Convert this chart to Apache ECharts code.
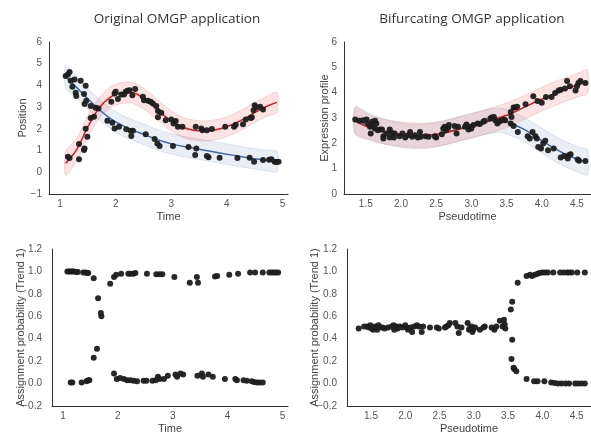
<!DOCTYPE html>
<html><head><meta charset="utf-8">
<script src="https://cdn.jsdelivr.net/npm/echarts@6/dist/echarts.min.js"></script>
<style>html,body{margin:0;padding:0;background:#fff}#c{width:591px;height:439px}</style>
</head><body><div id="c"></div>
<script>
// ---------- Data: top-left (Original OMGP) ----------
const origPoints = [
 [1.10,4.43],[1.14,4.50],[1.17,4.62],[1.19,4.21],[1.22,3.94],[1.26,4.27],[1.28,3.66],[1.29,3.51],[1.37,4.21],[1.43,3.60],
 [1.46,3.98],[1.44,3.14],[1.47,3.29],[1.55,3.05],[1.64,2.97],[1.69,2.94],[1.85,2.37],[1.94,2.28],[1.98,2.02],[2.06,2.10],
 [2.19,1.98],[2.27,1.91],[2.31,1.91],[2.28,1.67],[2.54,1.75],[2.70,1.53],[2.75,1.33],[2.79,1.21],[3.03,1.21],[3.31,1.16],
 [3.45,1.10],[3.43,0.80],[3.64,0.75],[3.67,0.69],[3.87,0.67],[4.19,0.66],[4.41,0.67],[4.49,0.49],[4.65,0.57],[4.76,0.58],
 [4.80,0.60],[4.86,0.49],[4.89,0.47],[4.93,0.49],
 [1.14,0.72],[1.17,0.66],[1.34,0.60],[1.34,1.30],[1.43,1.03],[1.44,1.10],[1.46,2.01],[1.49,1.64],[1.55,2.50],[1.61,2.56],
 [1.92,3.25],[1.98,3.63],[2.00,3.71],[2.04,3.37],[2.10,3.58],[2.15,3.58],[2.18,3.71],[2.21,3.75],[2.25,3.78],[2.30,3.55],
 [2.35,3.84],[2.49,3.48],[2.51,3.32],[2.58,3.29],[2.63,3.25],[2.67,3.17],[2.73,3.05],[2.76,2.82],[2.76,2.53],[2.82,2.74],
 [2.90,2.40],[3.00,2.43],[3.04,2.25],[3.08,2.36],[3.12,2.10],[3.20,2.10],[3.44,2.10],[3.54,2.02],[3.56,1.94],[3.64,1.94],
 [3.73,1.99],[3.97,2.10],[4.13,2.10],[4.16,2.19],[4.29,2.21],[4.34,2.43],[4.43,2.50],[4.45,2.53],[4.48,2.86],[4.50,3.09],
 [4.53,2.99],[4.60,3.02],[4.65,2.89]
];
const origCurveX = [1.1,1.3,1.5,1.7,1.9,2.1,2.3,2.5,2.7,2.9,3.1,3.3,3.5,3.7,3.9,4.1,4.3,4.5,4.7,4.9];
const origRedMean = [0.41,1.05,2.10,2.95,3.45,3.65,3.66,3.40,3.00,2.55,2.20,1.99,1.91,1.92,2.02,2.20,2.45,2.75,3.02,3.22];
const origRedHalf = [0.55,0.52,0.50,0.48,0.48,0.48,0.48,0.48,0.47,0.47,0.46,0.46,0.46,0.46,0.46,0.46,0.46,0.46,0.46,0.46];
const origBlueMean = [4.40,3.90,3.38,2.90,2.48,2.18,1.95,1.75,1.55,1.38,1.25,1.15,1.06,0.97,0.88,0.79,0.70,0.62,0.55,0.49];
const origBlueHalf = [0.53,0.50,0.48,0.48,0.47,0.47,0.47,0.47,0.47,0.47,0.47,0.47,0.47,0.47,0.47,0.47,0.47,0.47,0.47,0.47];
const origXTicks = [1,2,3,4,5];

// ---------- Data: top-right (Bifurcating OMGP) ----------
const bifPoints = [
 [1.35,2.94],[1.41,2.89],[1.46,2.91],[1.51,2.94],[1.53,2.78],[1.56,2.65],[1.57,2.39],[1.59,2.85],[1.60,2.72],[1.63,2.59],
 [1.63,2.89],[1.65,2.78],[1.67,2.52],[1.70,2.55],[1.73,2.55],[1.75,2.28],[1.75,2.19],[1.79,2.39],[1.84,2.55],[1.84,2.23],
 [1.87,2.41],[1.90,2.23],[1.91,2.39],[1.98,2.28],[2.02,2.39],[2.06,2.23],[2.10,2.32],[2.13,2.45],[2.16,2.26],[2.20,2.32],
 [2.24,2.23],[2.27,2.45],[2.28,2.26],[2.35,2.28],[2.39,2.26],[2.48,2.28],[2.50,2.23],[2.58,2.36],[2.60,2.59],[2.62,2.65],
 [2.64,2.52],[2.67,2.62],[2.68,2.72],[2.76,2.68],[2.79,2.39],[2.81,2.65],[2.91,2.65],[2.93,2.74],[2.96,2.55],[2.98,2.65],
 [3.00,2.59],[3.03,2.72],[3.09,2.78],[3.12,2.76],[3.17,2.85],[3.19,2.89],[3.27,2.98],[3.29,3.02],[3.32,3.04],[3.34,2.91],
 [3.37,2.78],[3.39,2.85],[3.42,2.89],[3.46,2.94],[3.48,2.91],
 [3.56,3.24],[3.57,3.04],[3.60,3.41],[3.62,3.41],[3.65,3.44],[3.77,3.54],[3.88,3.86],[3.94,3.67],[4.00,3.60],[4.06,3.83],
 [4.14,3.83],[4.19,3.99],[4.24,4.09],[4.27,4.12],[4.33,4.16],[4.36,4.46],[4.40,4.25],[4.48,4.09],[4.50,4.25],[4.52,4.38],
 [4.55,4.46],[4.62,4.38],
 [3.56,2.78],[3.60,2.68],[3.66,2.45],[3.80,2.28],[3.83,2.19],[3.87,2.45],[3.91,2.28],[3.93,2.19],[3.95,1.86],[3.99,1.80],
 [4.02,1.99],[4.05,2.10],[4.09,1.73],[4.17,1.80],[4.27,1.44],[4.32,1.50],[4.37,1.40],[4.39,1.54],[4.41,1.57],[4.51,1.36],
 [4.53,1.31],[4.62,1.30]
];
const bifCurveX = [1.35,1.55,1.75,1.95,2.15,2.35,2.55,2.75,2.95,3.15,3.35,3.45,3.55,3.75,3.95,4.15,4.35,4.55,4.65];
const bifRedMean = [2.88,2.62,2.47,2.38,2.33,2.32,2.38,2.50,2.64,2.80,2.97,3.06,3.16,3.42,3.68,3.92,4.14,4.34,4.43];
const bifRedHalf = [0.52,0.50,0.49,0.48,0.48,0.48,0.48,0.48,0.48,0.48,0.48,0.48,0.48,0.47,0.47,0.47,0.47,0.47,0.47];
const bifBlueMean = [2.93,2.68,2.47,2.34,2.27,2.27,2.36,2.52,2.68,2.81,2.91,2.90,2.80,2.55,2.20,1.85,1.55,1.33,1.25];
const bifBlueHalf = [0.52,0.50,0.49,0.48,0.48,0.48,0.48,0.48,0.48,0.48,0.48,0.48,0.48,0.48,0.49,0.50,0.50,0.50,0.50];
const bifXTicks = [1.5,2.0,2.5,3.0,3.5,4.0,4.5];

// ---------- Data: bottom-left (assignment, Original) ----------
const origAssign = [
 [1.08,1.00],[1.11,1.00],[1.14,1.00],[1.17,1.00],[1.20,1.00],[1.24,0.995],[1.27,0.995],[1.37,0.99],[1.41,0.99],[1.44,0.985],
 [1.46,0.985],[1.56,0.94],[1.64,0.76],[1.69,0.63],[1.70,0.60],[1.86,0.89],[1.93,0.95],[1.97,0.97],[2.06,0.98],[2.19,0.98],
 [2.23,0.98],[2.28,0.98],[2.32,0.985],[2.53,0.98],[2.70,0.975],[2.76,0.975],[2.81,0.975],[3.03,0.95],[3.31,0.90],[3.44,0.95],
 [3.46,0.90],[3.77,0.955],[3.81,0.96],[4.03,0.97],[4.19,0.98],[4.41,0.99],[4.50,0.99],[4.64,0.99],[4.76,0.99],[4.80,0.99],
 [4.84,0.99],[4.88,0.99],[4.92,0.99],
 [1.14,0.01],[1.17,0.01],[1.34,0.01],[1.43,0.02],[1.46,0.03],[1.48,0.03],[1.56,0.23],[1.62,0.31],[1.93,0.09],[1.98,0.04],
 [2.04,0.05],[2.11,0.04],[2.17,0.03],[2.23,0.03],[2.29,0.025],[2.35,0.02],[2.47,0.025],[2.52,0.025],[2.63,0.025],[2.69,0.03],
 [2.73,0.06],[2.76,0.04],[2.84,0.04],[2.91,0.07],[3.05,0.08],[3.08,0.06],[3.14,0.09],[3.19,0.08],[3.45,0.07],[3.53,0.09],
 [3.55,0.06],[3.65,0.08],[3.73,0.06],[3.95,0.04],[4.14,0.04],[4.17,0.03],[4.29,0.03],[4.35,0.025],[4.44,0.02],[4.48,0.015],
 [4.53,0.01],[4.58,0.01],[4.64,0.01]
];

// ---------- Data: bottom-right (assignment, Bifurcating) ----------
const bifAssign = [
 [1.32,0.49],[1.40,0.51],[1.44,0.51],[1.47,0.50],[1.49,0.52],[1.51,0.49],[1.53,0.48],[1.56,0.51],[1.57,0.50],[1.59,0.48],
 [1.61,0.52],[1.63,0.50],[1.67,0.50],[1.70,0.49],[1.75,0.50],[1.80,0.51],[1.83,0.52],[1.84,0.48],[1.87,0.51],[1.89,0.49],
 [1.92,0.51],[1.96,0.50],[2.00,0.52],[2.02,0.50],[2.04,0.48],[2.08,0.50],[2.10,0.46],[2.13,0.51],[2.17,0.52],[2.20,0.51],
 [2.24,0.46],[2.26,0.51],[2.36,0.50],[2.46,0.50],[2.49,0.49],[2.58,0.50],[2.60,0.51],[2.63,0.52],[2.65,0.54],[2.73,0.54],
 [2.76,0.51],[2.78,0.45],[2.82,0.50],[2.91,0.54],[2.93,0.48],[2.94,0.49],[2.97,0.51],[2.98,0.46],[2.99,0.48],[3.02,0.50],
 [3.09,0.48],[3.14,0.50],[3.16,0.51],[3.26,0.50],[3.30,0.48],[3.33,0.51],[3.38,0.56],[3.42,0.51],[3.44,0.57],[3.45,0.53],
 [3.46,0.49],
 [3.54,0.66],[3.56,0.73],[3.64,0.90],[3.77,0.96],[3.82,0.97],[3.85,0.96],[3.89,0.97],[3.93,0.98],[3.96,0.985],[4.00,0.99],
 [4.04,0.99],[4.08,0.99],[4.16,0.99],[4.26,0.99],[4.31,0.99],[4.36,0.99],[4.39,0.99],[4.43,0.99],[4.51,0.99],[4.62,0.99],
 [3.56,0.39],[3.55,0.22],[3.58,0.14],[3.59,0.13],[3.62,0.11],[3.77,0.04],[3.88,0.02],[3.93,0.02],[4.03,0.02],[4.13,0.01],
 [4.18,0.005],[4.23,0.0],[4.28,0.0],[4.34,0.0],[4.39,0.0],[4.48,0.0],[4.52,0.0],[4.57,0.0],[4.62,0.0]
];

// ---------- Styling ----------
const RED = '#e0161c', BLUE = '#3a6cb0', DOT = '#1e1e1e';
const RED_BAND = 'rgba(225,70,70,0.15)', RED_EDGE = 'rgba(215,90,90,0.25)';
const BLUE_BAND = 'rgba(90,125,180,0.13)', BLUE_EDGE = 'rgba(90,125,180,0.22)';
const TICK_FONT = 'Liberation Sans';
const minus = s => String(s).replace('-', '\u2212');

function zip(xs, ys) { return xs.map((x, i) => [x, ys[i]]); }

function band(idx, xs, mean, half, fill, edge, z) {
  return {
    type: 'custom', xAxisIndex: idx, yAxisIndex: idx, silent: true, z: z,
    data: [[xs[0], mean[0]]],
    renderItem: function (params, api) {
      const pts = [];
      for (let i = 0; i < xs.length; i++) pts.push(api.coord([xs[i], mean[i] + half[i]]));
      for (let i = xs.length - 1; i >= 0; i--) pts.push(api.coord([xs[i], mean[i] - half[i]]));
      return { type: 'polygon', shape: { points: pts, smooth: 0.25 }, style: { fill: fill, stroke: edge, lineWidth: 0.8 } };
    }
  };
}
function curve(idx, xs, ys, color, z) {
  return { type: 'line', xAxisIndex: idx, yAxisIndex: idx, data: zip(xs, ys), smooth: 0.4,
    showSymbol: false, silent: true, z: z, lineStyle: { color: color, width: 1.5 } };
}
function dots(idx, pts) {
  return { type: 'scatter', xAxisIndex: idx, yAxisIndex: idx, data: pts, symbolSize: 6, z: 10,
    itemStyle: { color: DOT, opacity: 0.95 } };
}
function xAxis(idx, min, max, ticks, name, dec) {
  return {
    type: 'value', gridIndex: idx, min: min, max: max,
    name: name, nameLocation: 'middle', nameGap: 17,
    nameTextStyle: { color: '#444', fontSize: 11, fontFamily: TICK_FONT },
    axisLine: { onZero: false, lineStyle: { color: '#333', width: 1 } },
    axisTick: { show: false }, splitLine: { show: false },
    axisLabel: { customValues: ticks, color: '#555', fontSize: 10, fontFamily: TICK_FONT, margin: 5,
      formatter: v => dec ? v.toFixed(1) : String(v) }
  };
}
function yAxis(idx, min, max, interval, name, dec, gap, margin) {
  return {
    type: 'value', gridIndex: idx, min: min, max: max, interval: interval,
    name: name, nameLocation: 'middle', nameGap: gap, nameMoveOverlap: false,
    nameTextStyle: { color: '#444', fontSize: 11, fontFamily: TICK_FONT },
    axisLine: { show: true, onZero: false, lineStyle: { color: '#333', width: 1 } },
    axisTick: { show: false }, splitLine: { show: false },
    axisLabel: { color: '#555', fontSize: 10, fontFamily: TICK_FONT, margin: margin,
      formatter: v => minus(dec ? v.toFixed(1) : String(Math.round(v))) }
  };
}

const chart = echarts.init(document.getElementById('c'), null, { renderer: 'canvas' });
chart.setOption({
  animation: false,
  backgroundColor: '#fff',
  title: [
    { text: 'Original OMGP application', left: 172, top: 7, textAlign: 'center',
      textStyle: { fontFamily: 'Open Sans', fontSize: 13.5, fontWeight: 'normal', color: '#333' } },
    { text: 'Bifurcating OMGP application', left: 467, top: 7, textAlign: 'center',
      textStyle: { fontFamily: 'Open Sans', fontSize: 13.5, fontWeight: 'normal', color: '#333' } }
  ],
  grid: [
    { left: 49, top: 42, width: 239, height: 152 },
    { left: 344, top: 42, width: 247, height: 152 },
    { left: 52, top: 249, width: 236, height: 157 },
    { left: 347, top: 249, width: 244, height: 157 }
  ],
  xAxis: [
    xAxis(0, 0.8, 5.1, origXTicks, 'Time', false),
    xAxis(1, 1.19, 4.70, bifXTicks, 'Pseudotime', true),
    xAxis(2, 0.8, 5.1, origXTicks, 'Time', false),
    xAxis(3, 1.15, 4.71, bifXTicks, 'Pseudotime', true)
  ],
  yAxis: [
    yAxis(0, -1, 6, 1, 'Position', false, 21, 7),
    yAxis(1, 0, 6, 1, 'Expression profile', false, 14, 7),
    yAxis(2, -0.2, 1.2, 0.2, 'Assignment probability (Trend 1)', true, 26, 10),
    yAxis(3, -0.2, 1.2, 0.2, 'Assignment probability (Trend 1)', true, 27, 10)
  ],
  series: [
    band(0, origCurveX, origBlueMean, origBlueHalf, BLUE_BAND, BLUE_EDGE, 1),
    band(0, origCurveX, origRedMean, origRedHalf, RED_BAND, RED_EDGE, 2),
    curve(0, origCurveX, origBlueMean, BLUE, 5),
    curve(0, origCurveX, origRedMean, RED, 6),
    dots(0, origPoints),
    band(1, bifCurveX, bifBlueMean, bifBlueHalf, BLUE_BAND, BLUE_EDGE, 1),
    band(1, bifCurveX, bifRedMean, bifRedHalf, RED_BAND, RED_EDGE, 2),
    curve(1, bifCurveX, bifBlueMean, BLUE, 5),
    curve(1, bifCurveX, bifRedMean, RED, 6),
    dots(1, bifPoints),
    dots(2, origAssign),
    dots(3, bifAssign)
  ]
});
</script></body></html>
